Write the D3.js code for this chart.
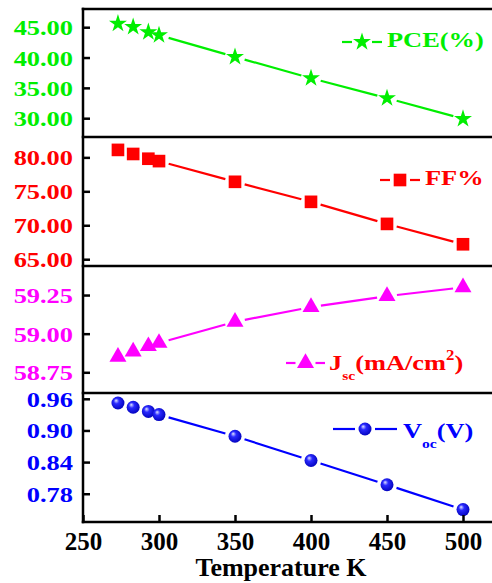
<!DOCTYPE html>
<html>
<head>
<meta charset="utf-8">
<script src="https://cdn.jsdelivr.net/npm/d3@7"></script>
<style>
  body { margin: 0; background: #fff; }
  svg { display: block; }
  text { font-family: "Liberation Serif", "Times New Roman", serif; font-weight: bold; }
</style>
</head>
<body>
<div id="vis"></div>
<script>
const width = 492;
const height = 583;

// data
const temps = [273, 283, 293, 300, 350, 400, 450, 500];
const pce = [45.6, 45.05, 44.2, 43.7, 40.1, 36.6, 33.3, 29.9];
const ff = [81.1, 80.5, 79.8, 79.45, 76.4, 73.45, 70.2, 67.2];
const jsc = [58.85, 58.884, 58.919, 58.94, 59.077, 59.172, 59.243, 59.30];
const voc = [0.952, 0.944, 0.936, 0.930, 0.889, 0.843, 0.797, 0.750];

const xTicks = [250, 300, 350, 400, 450, 500];
const pceTicks = [30, 35, 40, 45];
const ffTicks = [65, 70, 75, 80];
const jscTicks = [58.75, 59.00, 59.25];
const vocTicks = [0.78, 0.84, 0.90, 0.96];

const left = 83, right = 491;
const panelEdges = [9, 137, 266, 393, 522];

const svg = d3.select('#vis')
    .append('svg')
    .attr('width', width)
    .attr('height', height);

// ball gradient for the Voc markers
const grad = svg.append("defs").append("radialGradient")
    .attr("id", "ball")
    .attr("cx", "45%").attr("cy", "45%").attr("r", "60%")
    .attr("fx", "35%").attr("fy", "30%");
grad.append("stop").attr("offset", "0%").attr("stop-color", "#e0e4ff");
grad.append("stop").attr("offset", "35%").attr("stop-color", "#2a2aff");
grad.append("stop").attr("offset", "100%").attr("stop-color", "#0000b8");

const x = d3.scaleLinear()
    .domain([250, 250 + (right - left) / 1.52])
    .range([left, right]);

const panels = [
  { values: pce, ticks: pceTicks, domain: [26.9, 48.0], color: "#00ee00", fmt: ".2f",
    symbol: d3.symbolStar, size: 100,
    legend: { x1: 342, x2: 382, y: 42, tx: 387, ty: 47, textColor: "#00ee00" } },
  { values: ff, ticks: ffTicks, domain: [64.0, 83.0], color: "#ff0000", fmt: ".2f",
    symbol: d3.symbolSquare, size: 160,
    legend: { x1: 380, x2: 420, y: 180, tx: 425, ty: 185, textColor: "#ff0000" } },
  { values: jsc, ticks: jscTicks, domain: [58.616, 59.438], color: "#ff00ff", fmt: ".2f",
    symbol: d3.symbolTriangle, size: 125,
    legend: { x1: 286, x2: 325, y: 363, tx: 329, ty: 370, textColor: "#ff0000" } },
  { values: voc, ticks: vocTicks, domain: [0.7264, 0.971], color: "#0000ff", fmt: ".2f",
    symbol: null, size: 6.5,
    legend: { x1: 333, x2: 397, y: 429, tx: 403, ty: 438, textColor: "#0000ff" } }
];

// line between markers with a gap round each marker (like Origin)
function gapped(pts, gap) {
  const segs = [];
  for (let i = 1; i < pts.length; i++) {
    const [ax, ay] = pts[i - 1], [bx, by] = pts[i];
    const dx = bx - ax, dy = by - ay, len = Math.hypot(dx, dy);
    if (len <= 2 * gap + 1) continue;
    const ux = dx / len, uy = dy / len;
    segs.push([ax + ux * gap, ay + uy * gap, bx - ux * gap, by - uy * gap]);
  }
  return segs;
}

function drawMarker(g, p, cx, cy) {
  if (p.symbol) {
    g.append("path")
      .attr("d", d3.symbol().type(p.symbol).size(p.size)())
      .attr("transform", `translate(${cx},${cy})`)
      .attr("fill", p.color);
  } else {
    g.append("circle")
      .attr("cx", cx).attr("cy", cy).attr("r", p.size)
      .attr("fill", "url(#ball)");
  }
}

panels.forEach((p, i) => {
  const y = d3.scaleLinear().domain(p.domain).range([panelEdges[i + 1], panelEdges[i]]);
  const g = svg.append("g");

  const pts = temps.map((t, j) => [x(t), y(p.values[j])]);
  g.selectAll("line.seg")
    .data(gapped(pts, 10))
    .join("line")
    .attr("class", "seg")
    .attr("x1", d => d[0]).attr("y1", d => d[1])
    .attr("x2", d => d[2]).attr("y2", d => d[3])
    .attr("stroke", p.color)
    .attr("stroke-width", 2.2);

  pts.forEach(([cx, cy]) => drawMarker(g, p, cx, cy));

  // y axis, ticks pointing inward
  const ax = svg.append("g")
    .attr("transform", `translate(${left},0)`)
    .call(d3.axisLeft(y).tickValues(p.ticks).tickFormat(d3.format(p.fmt))
      .tickSize(-7).tickSizeOuter(0));
  ax.select(".domain").remove();
  ax.selectAll(".tick line").attr("stroke", "#000").attr("stroke-width", 2.5);
  ax.selectAll(".tick text")
    .attr("x", -10 / 1.2)
    .attr("dy", "0.34em")
    .attr("transform", "scale(1.2,1)")
    .attr("fill", p.color)
    .style("font-size", "22px");

  // legend: short line pieces either side of the marker
  const L = p.legend;
  const lg = svg.append("g");
  const mid = (L.x1 + L.x2) / 2;
  lg.append("line").attr("x1", L.x1).attr("x2", mid - 10)
    .attr("y1", L.y).attr("y2", L.y).attr("stroke", p.color).attr("stroke-width", 2.2);
  lg.append("line").attr("x1", mid + 10).attr("x2", L.x2)
    .attr("y1", L.y).attr("y2", L.y).attr("stroke", p.color).attr("stroke-width", 2.2);
  drawMarker(lg, p, mid, L.y);

  const t = svg.append("text")
    .attr("transform", `translate(${L.tx},${L.ty}) scale(1.2,1)`)
    .attr("fill", L.textColor)
    .style("font-size", "22px");
  if (i === 0) t.text("PCE(%)");
  if (i === 1) t.text("FF%");
  if (i === 2) {
    t.append("tspan").text("J");
    t.append("tspan").attr("dy", 10).style("font-size", "13px").text("sc");
    t.append("tspan").attr("dy", -10).text("(mA/cm");
    t.append("tspan").attr("dy", -10).style("font-size", "14px").text("2");
    t.append("tspan").attr("dy", 10).text(")");
  }
  if (i === 3) {
    t.append("tspan").text("V");
    t.append("tspan").attr("dy", 10).style("font-size", "13px").text("oc");
    t.append("tspan").attr("dy", -10).text("(V)");
  }
});

// panel frames (right side runs off the page)
panelEdges.forEach(yy => {
  svg.append("line")
    .attr("x1", left - 1.25).attr("x2", width + 5)
    .attr("y1", yy).attr("y2", yy)
    .attr("stroke", "#000").attr("stroke-width", 2.5);
});
svg.append("line")
  .attr("x1", left).attr("x2", left)
  .attr("y1", panelEdges[0] - 1.25).attr("y2", panelEdges[4] + 1.25)
  .attr("stroke", "#000").attr("stroke-width", 2.5);

// x axis
const xa = svg.append("g")
  .attr("transform", `translate(0,${panelEdges[4]})`)
  .call(d3.axisBottom(x).tickValues(xTicks).tickFormat(d3.format("d"))
    .tickSize(-7).tickSizeOuter(0));
xa.select(".domain").remove();
xa.selectAll(".tick line").attr("stroke", "#000").attr("stroke-width", 2.5);
xa.selectAll(".tick text")
  .attr("y", 28).attr("dy", 0)
  .attr("fill", "#000")
  .style("font-size", "25px");

svg.append("text")
  .attr("x", 281).attr("y", 576)
  .attr("text-anchor", "middle")
  .attr("fill", "#000")
  .style("font-size", "26px")
  .text("Temperature K");
</script>
</body>
</html>
